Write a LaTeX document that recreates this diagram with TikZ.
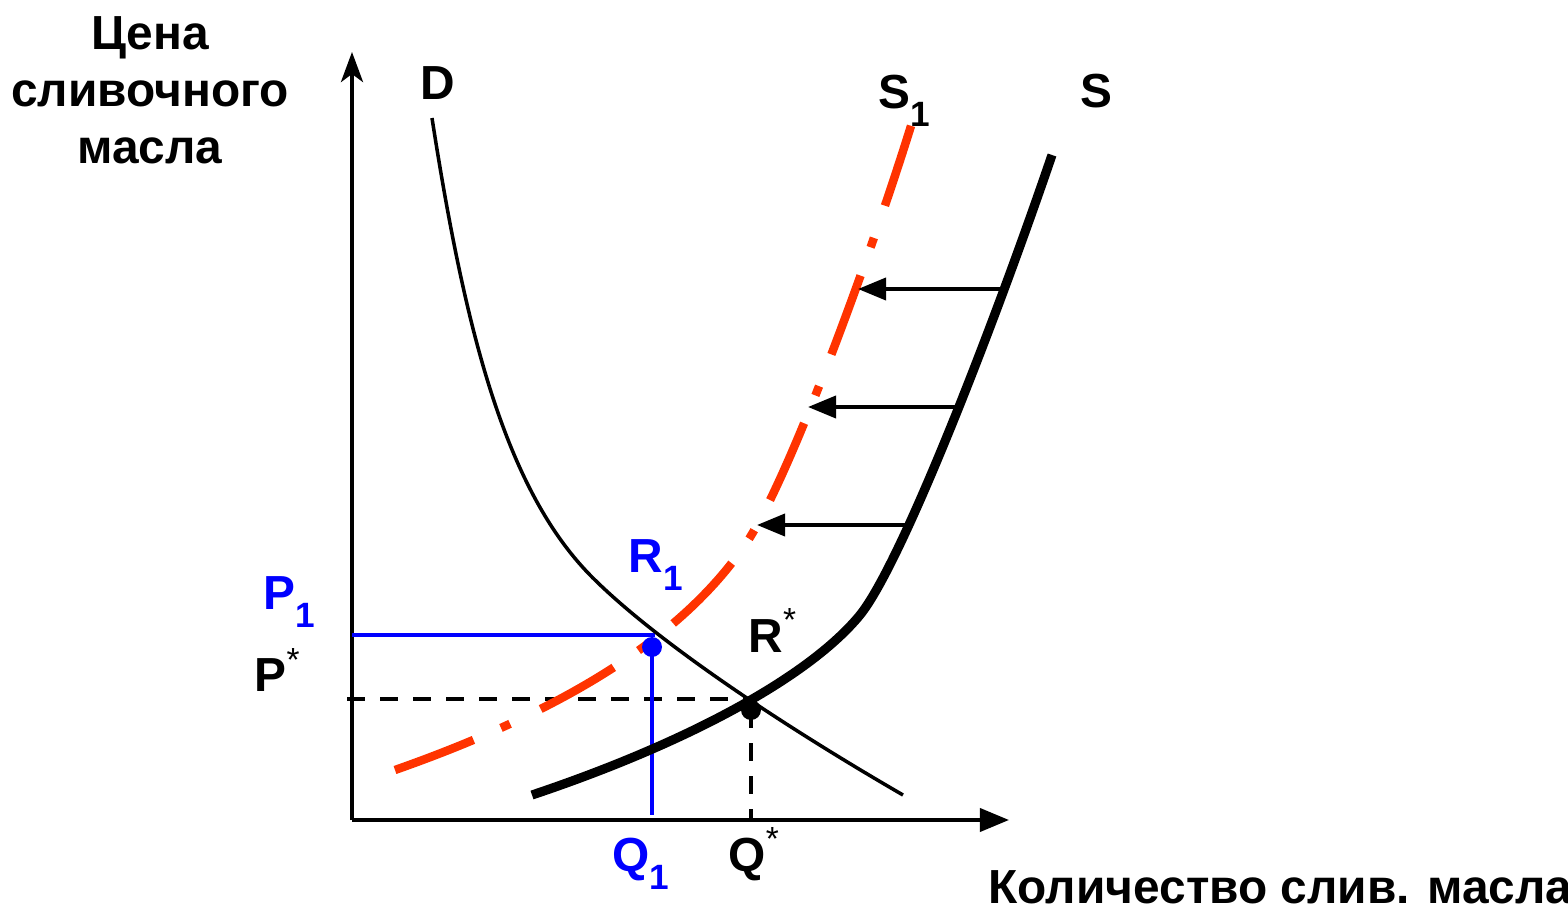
\documentclass[tikz,border=0pt]{standalone}
\usepackage{fontspec}
\setmainfont{Liberation Sans}
\usetikzlibrary{arrows.meta}
\definecolor{curvered}{RGB}{255,51,0}
\definecolor{pureblue}{RGB}{0,0,255}
\newcommand{\lowix}[1]{\raisebox{-0.38em}{\fontsize{10}{10}\selectfont #1}}
\newcommand{\highix}[1]{\raisebox{0.42em}{\fontsize{9.5}{9.5}\selectfont\mdseries #1}}

\begin{document}
\begin{tikzpicture}[
    x=0.01cm, y=-0.01cm,
    axis/.style={line width=1.1pt},
    demand/.style={line width=1pt},
    supply/.style={line width=2.6pt},
    shifted/.style={line width=2.4pt, draw=curvered, dash pattern=on 8.4mm off 3mm on 1mm off 3.4mm},
    shiftarrow/.style={-{Triangle[length=2.8mm, width=2.2mm]}, line width=1.1pt},
    guide/.style={line width=1.1pt, dash pattern=on 1.8mm off 1.5mm},
    blueline/.style={line width=1.1pt, draw=pureblue},
    lab/.style={font=\fontsize{13.6}{16.2}\selectfont\bfseries, inner sep=0pt, anchor=base west}
]
    \useasboundingbox (0,0) rectangle (1568,909);

    % Axes
    \coordinate (O) at (352,820);
    \coordinate (ytop) at (352,52);
    \coordinate (xend) at (1009,820);
    \draw[axis, -{Stealth[length=3mm, width=2.2mm, inset=0.8mm]}] (O) -- (ytop);
    \draw[axis, -{Triangle[length=2.9mm, width=2.3mm]}] (O) -- (xend);
    \node[lab, anchor=north, align=center] (ylab) at (150,16) {Цена\\сливочного\\масла};
    \node[lab] (xlab) at (988,903) {Количество слив. масла};

    % Equilibrium points
    \coordinate (R1) at (652,647);
    \coordinate (Rs) at (751,710);
    \coordinate (P1) at (352,635);
    \coordinate (R1top) at (655,635);
    \coordinate (Q1) at (652,815);
    \coordinate (Ps) at (347,699);
    \coordinate (Rsleft) at (748,699);
    \coordinate (Qs) at (751,820);

    % Guides
    \draw[guide] (Ps) -- (Rsleft);
    \draw[guide] (Rs) -- (Qs);
    \draw[blueline] (P1) -- (R1top);
    \draw[blueline] (R1) -- (Q1);

    % Curves D, S, S1
    \draw[demand] (432,118) .. controls (465,330) and (505,488) .. (590,575)
                  .. controls (650,636) and (770,718) .. (903,795);
    \draw[supply] (532,795) .. controls (690,742) and (810,676) .. (860,615)
                  .. controls (902,563) and (995,322) .. (1052,155);
    \draw[shifted] (395,770) .. controls (560,712) and (680,640) .. (745,545)
                   .. controls (790,480) and (880,230) .. (918,103);

    \fill[pureblue] (R1) circle (10);
    \fill (Rs) circle (10);

    % Shift arrows S -> S1
    \coordinate (a1) at (1004,289);
    \coordinate (b1) at (858,289);
    \coordinate (a2) at (959,407);
    \coordinate (b2) at (808,407);
    \coordinate (a3) at (909,525);
    \coordinate (b3) at (757,525);
    \draw[shiftarrow] (a1) -- (b1);
    \draw[shiftarrow] (a2) -- (b2);
    \draw[shiftarrow] (a3) -- (b3);

    % Labels
    \node[lab] (labD) at (420,100) {D};
    \node[lab] (labS1) at (878,108) {S\lowix{1}};
    \node[lab] (labS) at (1080,107) {S};
    \node[lab, text=pureblue] (labR1) at (628,572) {R\lowix{1}};
    \node[lab] (labRs) at (748,652) {R\highix{*}};
    \node[lab, text=pureblue] (labP1) at (263,609) {P\lowix{1}};
    \node[lab] (labPs) at (254,692) {P\highix{*}};
    \node[lab, text=pureblue] (labQ1) at (612,871) {Q\lowix{1}};
    \node[lab] (labQs) at (728,871) {Q\highix{*}};
\end{tikzpicture}
\end{document}
